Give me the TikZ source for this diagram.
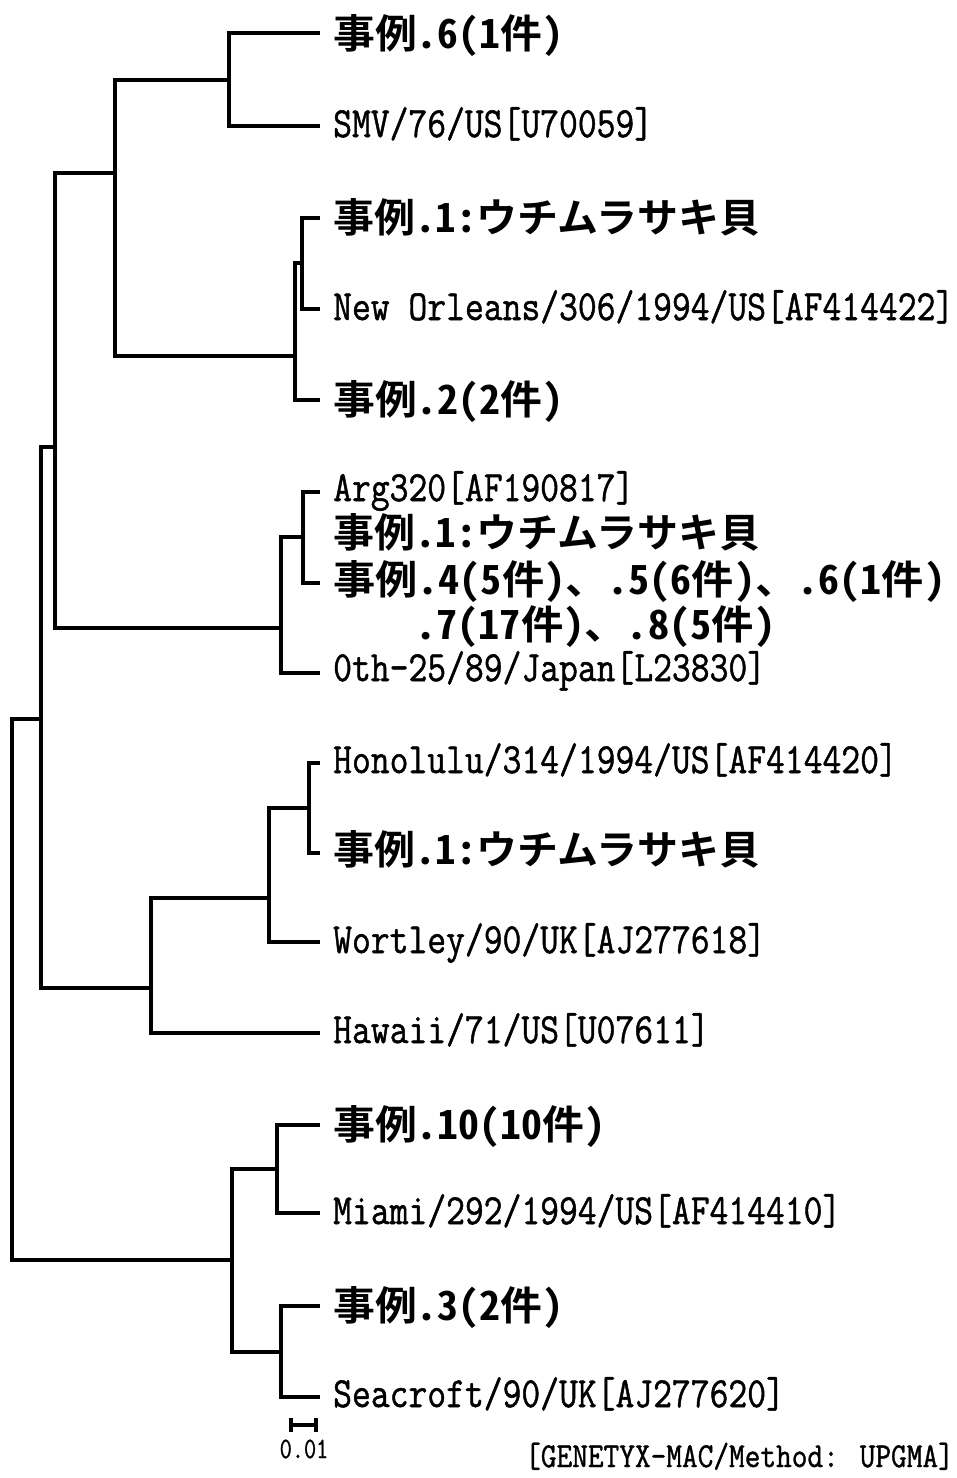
\documentclass[tikz,border=0pt]{standalone}
\usepackage{fontspec}
\usepackage{graphicx}
\newfontfamily\jpb{Noto Sans CJK JP Bold}[RawFeature=+hwid]
\newfontfamily\latt{Latin Modern Mono}[FakeBold=1.2]
\newcommand\lab[1]{\scalebox{0.85}[1]{\fontsize{43}{43}\selectfont\latt #1}}
\newcommand\jlab[2]{\resizebox{#1pt}{\height}{\fontsize{40}{40}\selectfont\jpb #2}}
\tikzset{
  branch/.style={line width=3.2pt, line cap=rect, line join=miter},
  leaflabel/.style={inner sep=0pt, anchor=base west},
}
\begin{document}
\begin{tikzpicture}[x=1pt,y=-1pt]
\useasboundingbox (0,0) rectangle (956,1478);
% internal nodes
\coordinate (R) at (12,990);
\coordinate (A) at (41,719);
\coordinate (B) at (55,447);
\coordinate (C) at (115,173);
\coordinate (D) at (229,80);
\coordinate (E) at (295,356);
\coordinate (F) at (302,263);
\coordinate (G) at (281,628);
\coordinate (H) at (303,537);
\coordinate (I) at (151,988);
\coordinate (J) at (269,898);
\coordinate (K) at (309,808);
\coordinate (M) at (232,1260);
\coordinate (N) at (277,1169);
\coordinate (O) at (281,1352);
% leaves
\coordinate (l1) at (318,33);
\coordinate (l2) at (318,126);
\coordinate (l3) at (318,218);
\coordinate (l4) at (318,309);
\coordinate (l5) at (318,400);
\coordinate (l6) at (318,492);
\coordinate (l7) at (318,583);
\coordinate (l8) at (318,673);
\coordinate (l9) at (318,763);
\coordinate (l10) at (318,853);
\coordinate (l11) at (318,942);
\coordinate (l12) at (318,1033);
\coordinate (l13) at (318,1125);
\coordinate (l14) at (318,1213);
\coordinate (l15) at (318,1306);
\coordinate (l16) at (318,1397);
% branches
\draw[branch] (R) |- (A);
\draw[branch] (R) |- (M);
\draw[branch] (A) |- (B);
\draw[branch] (A) |- (I);
\draw[branch] (B) |- (C);
\draw[branch] (B) |- (G);
\draw[branch] (C) |- (D);
\draw[branch] (C) |- (E);
\draw[branch] (D) |- (l1);
\draw[branch] (D) |- (l2);
\draw[branch] (E) |- (F);
\draw[branch] (E) |- (l5);
\draw[branch] (F) |- (l3);
\draw[branch] (F) |- (l4);
\draw[branch] (G) |- (H);
\draw[branch] (G) |- (l8);
\draw[branch] (H) |- (l6);
\draw[branch] (H) |- (l7);
\draw[branch] (I) |- (J);
\draw[branch] (I) |- (l12);
\draw[branch] (J) |- (K);
\draw[branch] (J) |- (l11);
\draw[branch] (K) |- (l9);
\draw[branch] (K) |- (l10);
\draw[branch] (M) |- (N);
\draw[branch] (M) |- (O);
\draw[branch] (N) |- (l13);
\draw[branch] (N) |- (l14);
\draw[branch] (O) |- (l15);
\draw[branch] (O) |- (l16);
% labels
\node[leaflabel] (t1) at (333,48) {\jlab{230}{事例.6(1件)}};
\node[leaflabel] (t2) at (333,137) {\lab{SMV/76/US[U70059]}};
\node[leaflabel] (t3) at (333,232) {\jlab{427}{事例.1:ウチムラサキ貝}};
\node[leaflabel] (t4) at (333,320) {\lab{New Orleans/306/1994/US[AF414422]}};
\node[leaflabel] (t5) at (333,414) {\jlab{230}{事例.2(2件)}};
\node[leaflabel] (t6) at (333,501) {\lab{Arg320[AF190817]}};
\node[leaflabel] (t7) at (333,547) {\jlab{427}{事例.1:ウチムラサキ貝}};
\node[leaflabel] (t8) at (333,594) {\jlab{612}{事例.4(5件)、.5(6件)、.6(1件)}};
\node[leaflabel] (t9) at (415,639) {\jlab{360}{.7(17件)、.8(5件)}};
\node[leaflabel] (t10) at (333,681) {\lab{0th-25/89/Japan[L23830]}};
\node[leaflabel] (t11) at (333,773) {\lab{Honolulu/314/1994/US[AF414420]}};
\node[leaflabel] (t12) at (333,864) {\jlab{427}{事例.1:ウチムラサキ貝}};
\node[leaflabel] (t13) at (333,953) {\lab{Wortley/90/UK[AJ277618]}};
\node[leaflabel] (t14) at (333,1043) {\lab{Hawaii/71/US[U07611]}};
\node[leaflabel] (t15) at (333,1139) {\jlab{272}{事例.10(10件)}};
\node[leaflabel] (t16) at (333,1224) {\lab{Miami/292/1994/US[AF414410]}};
\node[leaflabel] (t17) at (333,1320) {\jlab{230}{事例.3(2件)}};
\node[leaflabel] (t18) at (333,1407) {\lab{Seacroft/90/UK[AJ277620]}};
% scale bar
\coordinate (s1) at (291,1425);
\coordinate (s2) at (316,1425);
\draw[line width=4pt] (s1) -- (s2);
\draw[line width=4pt] ([yshift=-7pt]s1) -- ([yshift=7pt]s1);
\draw[line width=4pt] ([yshift=-7pt]s2) -- ([yshift=7pt]s2);
\node[inner sep=0pt, anchor=base] (sb) at (304,1458) {\scalebox{0.8}[1]{\fontsize{29.5}{30}\selectfont\latt 0.01}};
\node[inner sep=0pt, anchor=base west] (meth) at (525,1467) {\scalebox{0.87}[1]{\fontsize{35}{35}\selectfont\latt [GENETYX-MAC/Method: UPGMA]}};
\end{tikzpicture}
\end{document}
